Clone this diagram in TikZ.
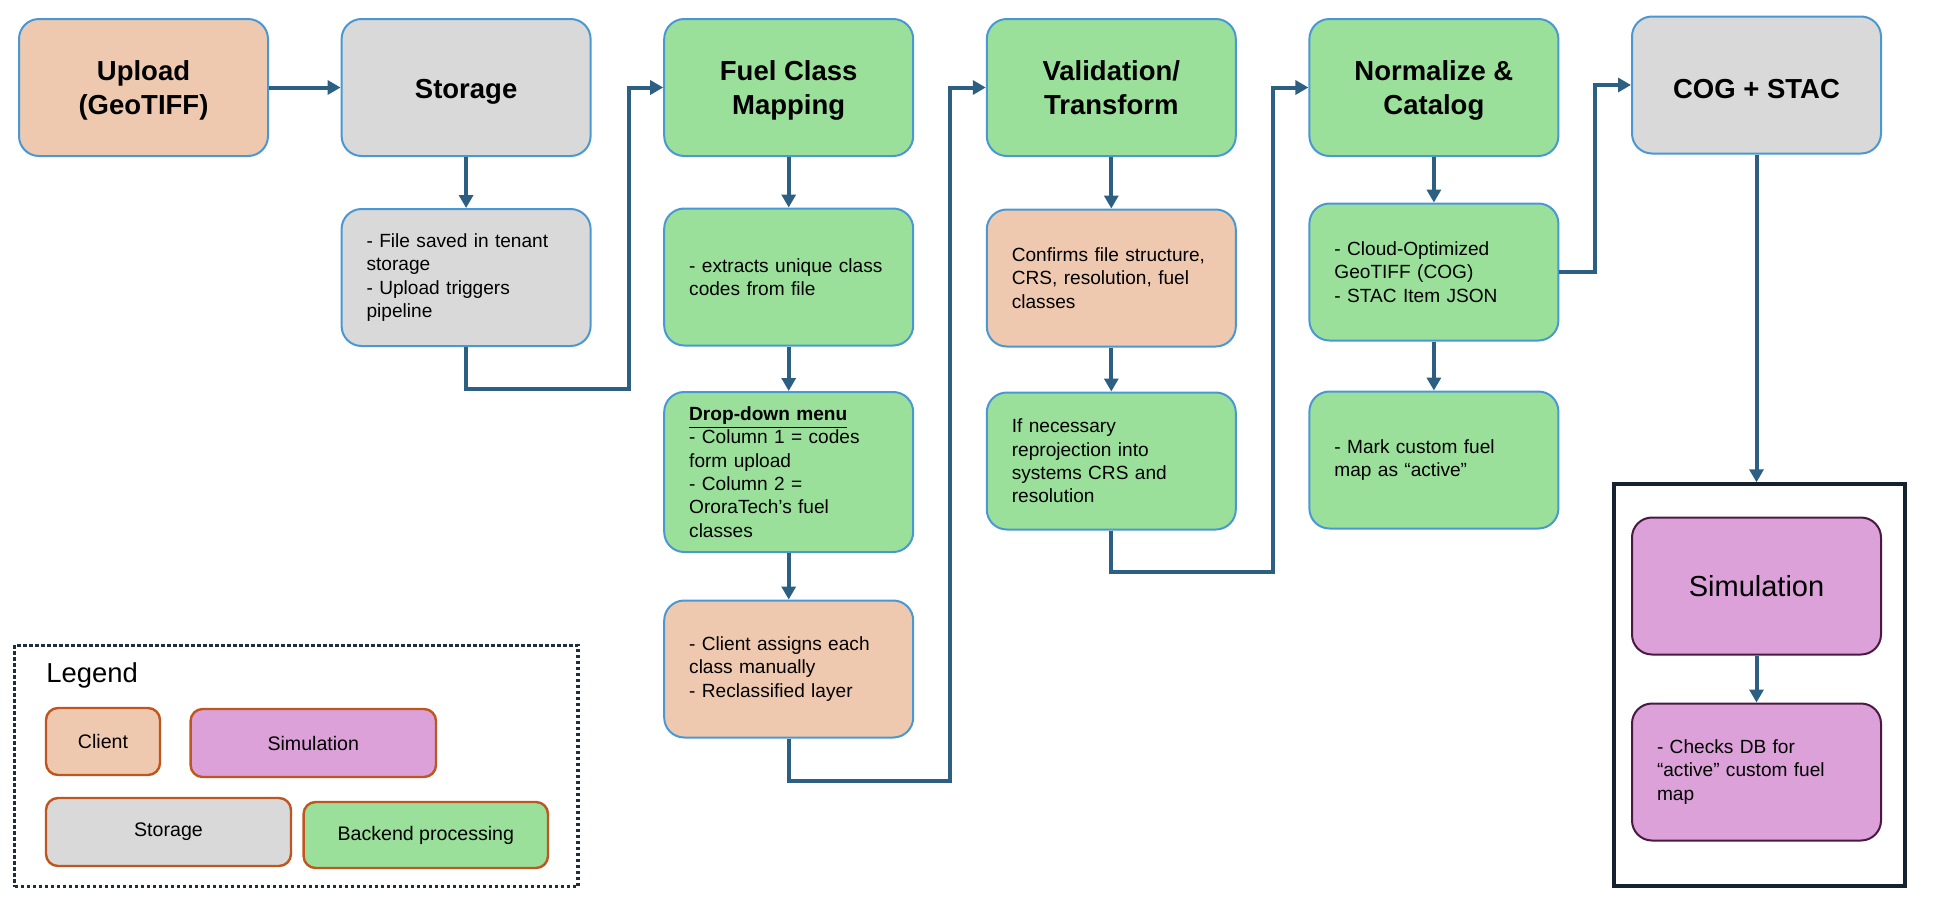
\documentclass[tikz,border=0pt]{standalone}
\usepackage{fontspec}
\setmainfont{Liberation Sans}
\usetikzlibrary{arrows.meta}
\definecolor{clientc}{HTML}{EFC9AF}
\definecolor{storec}{HTML}{D9D9D9}
\definecolor{greenc}{HTML}{9AE09A}
\definecolor{simc}{HTML}{DBA1D8}
\definecolor{boxblue}{HTML}{4A98D3}
\definecolor{simborder}{HTML}{4A1942}
\definecolor{legborder}{HTML}{C0561F}
\definecolor{connc}{HTML}{2C5F82}
\definecolor{framec}{HTML}{14232F}
\definecolor{dotc}{HTML}{1F2D3D}
\newcommand{\titlefnt}{\fontsize{13.75}{16.7}\selectfont\bfseries}
\newcommand{\bodyfnt}{\fontsize{9.55}{11.7}\selectfont}
\newcommand{\upstrut}{\rule{0pt}{13pt}}
\tikzset{
  box/.style={rounded corners=10pt, draw=boxblue, line width=1pt, minimum width=124.5pt, minimum height=68.5pt, inner sep=0pt},
  titlebox/.style={box, font=\titlefnt, align=center},
  bodybox/.style={box, font=\bodyfnt, align=left, text width=99.5pt, inner xsep=12.5pt},
  clientfill/.style={fill=clientc},
  storefill/.style={fill=storec},
  greenfill/.style={fill=greenc},
  simfill/.style={fill=simc, draw=simborder},
  conn/.style={draw=connc, line width=2pt, -{Triangle[length=6.5pt,width=7pt]}},
  legitem/.style={rounded corners=6pt, draw=legborder, line width=1.2pt, inner sep=0pt, font=\fontsize{9.8}{11.7}\selectfont},
}
\begin{document}
\begin{tikzpicture}[x=0.5pt,y=-0.5pt]
\useasboundingbox (0,0) rectangle (1940,906);
% top row
\node[titlebox, clientfill] (upload) at (143.5,87.5) {\upstrut Upload\\(GeoTIFF)};
\node[titlebox, storefill] (storage) at (466.1,87.5) {\rule{0pt}{13.5pt}Storage};
\node[titlebox, greenfill] (fuel) at (788.7,87.5) {\upstrut Fuel Class\\Mapping};
\node[titlebox, greenfill] (val) at (1111.3,87.5) {Validation/\\Transform};
\node[titlebox, greenfill] (norm) at (1433.9,87.5) {\upstrut Normalize \&\\Catalog};
\node[titlebox, storefill] (cog) at (1756.5,85) {\rule{0pt}{13.5pt}COG + STAC};
% details
\node[bodybox, storefill] (stdet) at (466.1,277.5) {- File saved in tenant\\storage\\- Upload triggers\\pipeline};
\node[bodybox, greenfill] (fdet) at (788.7,277) {- extracts unique class\\codes from file};
\node[bodybox, greenfill, minimum height=80pt] (drop) at (788.7,472) {\underline{\textbf{Drop-down menu}}\\- Column 1 = codes\\form upload\\- Column 2 =\\OroraTech’s fuel\\classes};
\node[bodybox, clientfill] (clientas) at (788.7,669) {- Client assigns each\\class manually\\- Reclassified layer};
\node[bodybox, clientfill] (vdet1) at (1111.3,278) {Confirms file structure,\\CRS, resolution, fuel\\classes};
\node[bodybox, greenfill] (vdet2) at (1111.3,461) {If necessary\\reprojection into\\systems CRS and\\resolution};
\node[bodybox, greenfill] (ndet1) at (1433.9,272) {- Cloud-Optimized\\GeoTIFF (COG)\\- STAC Item JSON};
\node[bodybox, greenfill] (ndet2) at (1433.9,460) {- Mark custom fuel\\map as “active”};
% simulation frame
\node[draw=framec, line width=1.7pt, minimum width=145.5pt, minimum height=201pt, inner sep=0pt] (simframe) at (1759.5,685) {};
\node[box, simfill, font=\fontsize{14.5}{17.5}\selectfont] (sim) at (1756.5,586) {Simulation};
\node[bodybox, simfill] (checks) at (1756.5,772) {- Checks DB for\\“active” custom fuel\\map};
% connectors
\coordinate (b1) at (628.5,388.5);
\coordinate (b2) at (950,780.7);
\coordinate (b3) at (1273,571.6);
\coordinate (b4) at (1594.7,272);
\draw[conn] (upload.east) -- (storage.west);
\draw[conn] (storage.south) -- (stdet.north);
\draw[conn] (stdet.south) |- (b1) |- (fuel.west);
\draw[conn] (fuel.south) -- (fdet.north);
\draw[conn] (fdet.south) -- (drop.north);
\draw[conn] (drop.south) -- (clientas.north);
\draw[conn] (clientas.south) |- (b2) |- (val.west);
\draw[conn] (val.south) -- (vdet1.north);
\draw[conn] (vdet1.south) -- (vdet2.north);
\draw[conn] (vdet2.south) |- (b3) |- (norm.west);
\draw[conn] (norm.south) -- (ndet1.north);
\draw[conn] (ndet1.south) -- (ndet2.north);
\draw[conn] (ndet1.east) -- (b4) |- (cog.west);
\draw[conn] (cog.south) -- (cog.south |- simframe.north);
\draw[conn] (sim.south) -- (checks.north);
% legend
\node[draw=dotc, line width=1.6pt, dash pattern=on 1.6pt off 1.4pt, minimum width=281.6pt, minimum height=120.7pt, inner sep=0pt] (legframe) at (296.4,765.8) {};
\node[anchor=west, inner sep=0pt, font=\fontsize{13.7}{16}\selectfont] (legtitle) at (46,675) {Legend};
\node[legitem, fill=clientc, minimum width=57pt, minimum height=33.5pt] (lclient) at (103,741.5) {Client};
\node[legitem, fill=simc, minimum width=122.7pt, minimum height=34pt] (lsim) at (313.3,743) {Simulation};
\node[legitem, fill=storec, minimum width=122.5pt, minimum height=34pt] (lstore) at (168.5,832) {Storage};
\node[legitem, fill=greenc, minimum width=122.2pt, minimum height=33pt] (lback) at (425.8,835) {Backend processing};
\end{tikzpicture}
\end{document}
